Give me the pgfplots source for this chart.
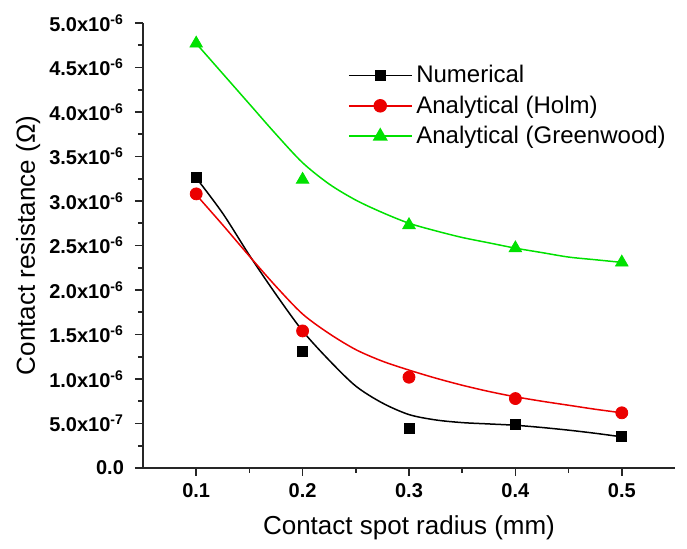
\documentclass[border=0pt]{standalone}
\usepackage{pgfplots}
\pgfplotsset{compat=1.18}
\usepackage{fontspec}
\setmainfont{Liberation Sans}
\definecolor{fitgreen}{RGB}{0,225,0}
\definecolor{fitred}{RGB}{235,0,0}
\begin{document}
\begin{tikzpicture}
% canvas of the reference: 687x549 px at 0.5 pt per px, axis origin at (143,468) px
\useasboundingbox (-71.5pt,-40.5pt) rectangle (272pt,234pt);
\begin{axis}[
    anchor=south west, at={(0pt,0pt)},
    scale only axis,
    width=266pt, height=222.5pt,
    xmin=0.05, xmax=0.55,
    ymin=0, ymax=5e-6,
    axis lines*=left,
    axis line style={-, line width=0.8pt, black!85},
    tick align=outside,
    major tick length=4pt,
    minor tick length=2.5pt,
    tick style={line width=0.8pt, black!85},
    xtick={0.1,0.2,0.3,0.4,0.5},
    xticklabels={0.1,0.2,0.3,0.4,0.5},
    minor x tick num=1,
    ytick={0,0.5e-6,1e-6,1.5e-6,2e-6,2.5e-6,3e-6,3.5e-6,4e-6,4.5e-6,5e-6},
    yticklabels={0.0,
      5.0x10\textsuperscript{-7},
      1.0x10\textsuperscript{-6},
      1.5x10\textsuperscript{-6},
      2.0x10\textsuperscript{-6},
      2.5x10\textsuperscript{-6},
      3.0x10\textsuperscript{-6},
      3.5x10\textsuperscript{-6},
      4.0x10\textsuperscript{-6},
      4.5x10\textsuperscript{-6},
      5.0x10\textsuperscript{-6}},
    minor y tick num=1,
    scaled y ticks=false,
    tick label style={font=\fontsize{10}{12}\selectfont\bfseries},
    yticklabel style={xshift=-2pt},
    xlabel={Contact spot radius (mm)},
    ylabel={Contact resistance (Ω)},
    label style={font=\fontsize{13}{15}\selectfont},
    xlabel style={at={(axis description cs:0.5,-0.135)}, anchor=center},
    ylabel style={at={(axis description cs:-0.216,0.5)}, anchor=center},
    legend cell align=left,
    legend style={draw=none, fill=none, font=\fontsize{12}{14}\selectfont,
      at={(axis description cs:0.385,0.915)}, anchor=north west,
      row sep=1pt, inner sep=0pt},
    ]

% fitted curves
\addplot[black, line width=0.75pt, smooth, tension=0.5, forget plot] coordinates {
  (0.1,3.26e-6) (0.125,2.86e-6) (0.15,2.39e-6) (0.175,1.95e-6) (0.2,1.54e-6)
  (0.225,1.21e-6) (0.25,0.92e-6) (0.275,0.73e-6) (0.3,0.60e-6) (0.325,0.54e-6)
  (0.35,0.51e-6) (0.375,0.495e-6) (0.4,0.48e-6) (0.425,0.455e-6) (0.45,0.425e-6)
  (0.475,0.39e-6) (0.5,0.35e-6)};
\addplot[fitred, line width=0.75pt, smooth, tension=0.5, forget plot] coordinates {
  (0.1,3.07e-6) (0.125,2.73e-6) (0.15,2.38e-6) (0.175,2.04e-6) (0.2,1.73e-6)
  (0.225,1.51e-6) (0.25,1.33e-6) (0.275,1.20e-6) (0.3,1.10e-6) (0.325,1.01e-6)
  (0.35,0.93e-6) (0.375,0.86e-6) (0.4,0.80e-6) (0.425,0.75e-6) (0.45,0.705e-6)
  (0.475,0.66e-6) (0.5,0.62e-6)};
\addplot[fitgreen, line width=0.75pt, smooth, tension=0.5, forget plot] coordinates {
  (0.1,4.77e-6) (0.125,4.43e-6) (0.15,4.09e-6) (0.175,3.75e-6) (0.2,3.43e-6)
  (0.225,3.19e-6) (0.25,3.01e-6) (0.275,2.87e-6) (0.3,2.75e-6) (0.325,2.665e-6)
  (0.35,2.59e-6) (0.375,2.53e-6) (0.4,2.47e-6) (0.425,2.42e-6) (0.45,2.37e-6)
  (0.475,2.34e-6) (0.5,2.31e-6)};

% data points
\pgfplotsset{every axis plot/.append style={only marks,
  legend image code/.code={\draw[sharp plot, line width=0.75pt, mark repeat=2, mark phase=2]
    plot coordinates {(0cm,0cm) (0.55cm,0cm) (1.1cm,0cm)};}}}
\addplot[black, mark=square*, mark size=2.5pt] coordinates {
  (0.1,3.26e-6) (0.2,1.31e-6) (0.3,0.44e-6) (0.4,0.49e-6) (0.5,0.35e-6)};
\addplot[fitred, mark=*, mark size=3pt] coordinates {
  (0.1,3.08e-6) (0.2,1.54e-6) (0.3,1.02e-6) (0.4,0.78e-6) (0.5,0.62e-6)};
\addplot[fitgreen, mark=triangle*, mark size=3.6pt] coordinates {
  (0.1,4.77e-6) (0.2,3.24e-6) (0.3,2.73e-6) (0.4,2.47e-6) (0.5,2.31e-6)};
\legend{Numerical, Analytical (Holm), Analytical (Greenwood)}
\end{axis}
\end{tikzpicture}
\end{document}
